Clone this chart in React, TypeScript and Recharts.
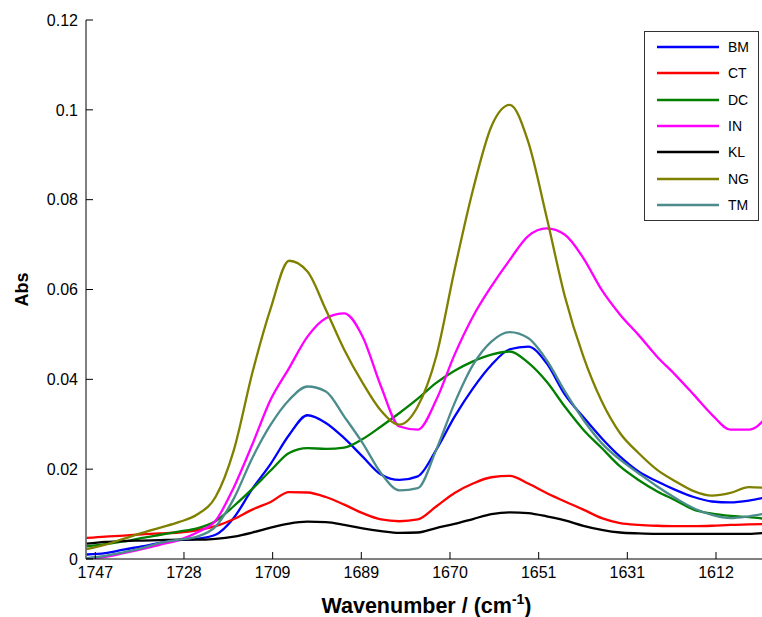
import React from "react";
import { LineChart, Line, XAxis, YAxis, Legend, Label } from "recharts";

// Spectra, one value every 4 cm-1 (high -> low wavenumber)
const WAVENUMBERS = [
    1749, 1745, 1741, 1737, 1733, 1729, 1725, 1721, 1717, 1713, 1709, 1705, 1701,
    1697, 1693, 1689, 1685, 1681, 1677, 1673, 1669, 1665, 1661, 1657, 1653, 1649,
    1645, 1641, 1637, 1633, 1629, 1625, 1621, 1617, 1613, 1609, 1605, 1601,
];

const BM = [
    0.001, 0.0013, 0.0021, 0.0028, 0.0036, 0.0042, 0.0045, 0.0054, 0.0092, 0.0156,
    0.0212, 0.0276, 0.032, 0.0303, 0.0269, 0.0228, 0.0188, 0.0176, 0.0184, 0.0243,
    0.0317, 0.038, 0.0432, 0.0467, 0.0473, 0.0436, 0.0366, 0.0316, 0.0269, 0.0228,
    0.0195, 0.0173, 0.0154, 0.0138, 0.0128, 0.0126, 0.013, 0.0138,
];
const CT = [
    0.0047, 0.005, 0.0052, 0.0055, 0.0057, 0.0059, 0.0064, 0.0073, 0.0089, 0.011,
    0.0127, 0.0149, 0.0148, 0.0138, 0.0121, 0.0102, 0.0088, 0.0084, 0.0088, 0.0117,
    0.0147, 0.0168, 0.0182, 0.0185, 0.0168, 0.0147, 0.0128, 0.011, 0.0091, 0.008,
    0.0076, 0.0074, 0.0073, 0.0073, 0.0074, 0.0076, 0.0077, 0.0078,
];
const DC = [
    0.0028, 0.0033, 0.0039, 0.0047, 0.0054, 0.0061, 0.0068, 0.0084, 0.0118, 0.0156,
    0.0197, 0.0236, 0.0247, 0.0245, 0.0248, 0.0267, 0.0295, 0.0325, 0.0357, 0.0392,
    0.0419, 0.044, 0.0455, 0.0462, 0.0437, 0.0395, 0.0339, 0.0288, 0.0247, 0.0206,
    0.0176, 0.0151, 0.0131, 0.011, 0.0101, 0.0096, 0.0093, 0.0089,
];
const IN = [
    0.0001, 0.0005, 0.0013, 0.0022, 0.0032, 0.0042, 0.0059, 0.0085, 0.016, 0.0255,
    0.0355, 0.0425, 0.0495, 0.0536, 0.0547, 0.0495, 0.0384, 0.0295, 0.0288, 0.0354,
    0.0455, 0.054, 0.0607, 0.0666, 0.0719, 0.0736, 0.0722, 0.067, 0.0599, 0.0544,
    0.0499, 0.0451, 0.041, 0.0366, 0.0321, 0.0288, 0.0288, 0.0317,
];
const KL = [
    0.0034, 0.0038, 0.004, 0.0041, 0.0042, 0.0043, 0.0043, 0.0045, 0.005, 0.0059,
    0.007, 0.0079, 0.0083, 0.0082, 0.0076, 0.0068, 0.0062, 0.0058, 0.0059, 0.0069,
    0.0078, 0.0089, 0.01, 0.0104, 0.0102, 0.0095, 0.0086, 0.0074, 0.0065, 0.0059,
    0.0057, 0.0056, 0.0056, 0.0056, 0.0056, 0.0056, 0.0056, 0.0059,
];
const NG = [
    0.0022, 0.0032, 0.0045, 0.0058, 0.007, 0.0082, 0.0099, 0.0138, 0.0243, 0.0414,
    0.0558, 0.0664, 0.064, 0.0555, 0.0466, 0.0392, 0.033, 0.0299, 0.034, 0.0451,
    0.0644, 0.0822, 0.0963, 0.1011, 0.0929, 0.0762, 0.0584, 0.0451, 0.0351, 0.028,
    0.0236, 0.0199, 0.0173, 0.0151, 0.0141, 0.0147, 0.016, 0.0158,
];
const TM = [
    0.0002, 0.0007, 0.0015, 0.0024, 0.0036, 0.0043, 0.005, 0.0072, 0.0135, 0.0225,
    0.0299, 0.0354, 0.0384, 0.0373, 0.0317, 0.0258, 0.0191, 0.0153, 0.0158, 0.0243,
    0.0347, 0.0432, 0.0484, 0.0505, 0.0492, 0.0443, 0.0373, 0.031, 0.0258, 0.0221,
    0.0191, 0.0162, 0.0136, 0.0113, 0.0098, 0.0091, 0.0095, 0.0102,
];

const SERIES_NAMES = ["BM", "CT", "DC", "IN", "KL", "NG", "TM"];
const SERIES_VALUES = [BM, CT, DC, IN, KL, NG, TM];

// tick positions on the wavenumber axis (labels are rounded)
const X_TICKS = [1747.14, 1727.86, 1708.57, 1689.29, 1670.0, 1650.71, 1631.43, 1612.14];
const Y_TICKS = [0, 0.02, 0.04, 0.06, 0.08, 0.1, 0.12];
const X_DOMAIN: [number, number] = [1601.05, 1749.17];
const Y_DOMAIN: [number, number] = [0, 0.12];

const COLORS: Record<string, string> = {
    BM: "#0000ff",
    CT: "#ff0000",
    DC: "#007f00",
    IN: "#ff00ff",
    KL: "#000000",
    NG: "#808000",
    TM: "#4c8c8c",
};

const FONT = "'Liberation Sans', Arial, Helvetica, sans-serif";
const TICK_LEN = 7;
const TICK_GAP = 8;

const rows = WAVENUMBERS.map((w, i) => {
    const row: Record<string, number> = { w };
    SERIES_NAMES.forEach((name, k) => {
        row[name] = SERIES_VALUES[k][i];
    });
    return row;
});

// MATLAB-style ticks: marks point into the plot box
const BottomTick = (props: any) => {
    const { x, y, payload } = props;
    const axisY = y - TICK_GAP;
    return (
        <g>
            <line x1={x} x2={x} y1={axisY} y2={axisY - TICK_LEN} stroke="#000" />
            <text x={x} y={y} dy="0.71em" textAnchor="middle" fontSize={16} fontFamily={FONT} fill="#000">
                {Math.round(payload.value)}
            </text>
        </g>
    );
};

const TopTick = (props: any) => {
    const { x, y } = props;
    return <line x1={x} x2={x} y1={y} y2={y + TICK_LEN} stroke="#000" />;
};

const LeftTick = (props: any) => {
    const { x, y, payload } = props;
    const axisX = x + TICK_GAP;
    return (
        <g>
            <line x1={axisX} x2={axisX + TICK_LEN} y1={y} y2={y} stroke="#000" />
            <text x={x} y={y} dy="0.355em" textAnchor="end" fontSize={16} fontFamily={FONT} fill="#000">
                {String(payload.value)}
            </text>
        </g>
    );
};

const RightTick = (props: any) => {
    const { x, y } = props;
    return <line x1={x} x2={x - TICK_LEN} y1={y} y2={y} stroke="#000" />;
};

const YTitle = (props: any) => {
    const vb = props.viewBox;
    const cx = vb.x + 22;
    const cy = vb.y + vb.height / 2;
    return (
        <text
            x={cx}
            y={cy}
            dy="0.355em"
            transform={`rotate(-90 ${cx} ${cy})`}
            textAnchor="middle"
            fontSize={18}
            fontWeight="bold"
            fontFamily={FONT}
            fill="#000"
        >
            Abs
        </text>
    );
};

const XTitle = (props: any) => {
    const vb = props.viewBox;
    const cx = vb.x + vb.width / 2;
    return (
        <text x={cx} y={vb.y + 54} textAnchor="middle" fontSize={21.5} fontWeight="bold" fontFamily={FONT} fill="#000">
            Wavenumber / (cm
            <tspan dy={-9} fontSize={14}>-1</tspan>
            <tspan dy={9}>)</tspan>
        </text>
    );
};

const LegendBox = (props: any) => {
    const payload = props.payload ?? [];
    return (
        <div
            style={{
                position: "relative",
                width: 113,
                height: 188,
                border: "1px solid #333",
                background: "#fff",
                fontFamily: FONT,
            }}
        >
            {payload.map((entry: any, i: number) => (
                <div
                    key={entry.value}
                    style={{
                        position: "absolute",
                        left: 0,
                        top: 6 + i * 26.3,
                        height: 18,
                        display: "flex",
                        alignItems: "center",
                    }}
                >
                    <svg width={83} height={18}>
                        <line x1={12} x2={74} y1={9} y2={9} stroke={entry.color} strokeWidth={2.5} />
                    </svg>
                    <span style={{ fontSize: 14, color: "#000", lineHeight: "18px" }}>{entry.value}</span>
                </div>
            ))}
        </div>
    );
};

export default function App() {
    return (
        <div
            style={{
                position: "absolute",
                left: 0,
                top: 0,
                width: 762,
                height: 617,
                overflow: "hidden",
                background: "#fff",
            }}
        >
            <LineChart width={800} height={617} data={rows} margin={{ top: 20, right: 33, bottom: 0, left: 0 }}>
                <XAxis
                    xAxisId="b"
                    dataKey="w"
                    type="number"
                    domain={X_DOMAIN}
                    allowDataOverflow
                    reversed
                    ticks={X_TICKS}
                    height={58}
                    tickSize={0}
                    tickMargin={TICK_GAP}
                    tickLine={false}
                    tick={<BottomTick />}
                    axisLine={{ stroke: "#000" }}
                >
                    <Label content={XTitle} />
                </XAxis>
                <XAxis
                    xAxisId="t"
                    orientation="top"
                    dataKey="w"
                    type="number"
                    domain={X_DOMAIN}
                    allowDataOverflow
                    reversed
                    ticks={X_TICKS}
                    height={0}
                    tickSize={0}
                    tickMargin={0}
                    tickLine={false}
                    tick={<TopTick />}
                    axisLine={{ stroke: "#000" }}
                />
                <YAxis
                    yAxisId="l"
                    type="number"
                    domain={Y_DOMAIN}
                    allowDataOverflow
                    ticks={Y_TICKS}
                    width={86}
                    tickSize={0}
                    tickMargin={TICK_GAP}
                    tickLine={false}
                    tick={<LeftTick />}
                    axisLine={{ stroke: "#000" }}
                >
                    <Label content={YTitle} />
                </YAxis>
                <YAxis
                    yAxisId="r"
                    orientation="right"
                    type="number"
                    domain={Y_DOMAIN}
                    allowDataOverflow
                    ticks={Y_TICKS}
                    width={0}
                    tickSize={0}
                    tickMargin={0}
                    tickLine={false}
                    tick={<RightTick />}
                    axisLine={{ stroke: "#000" }}
                />
                <Legend
                    layout="vertical"
                    align="center"
                    verticalAlign="middle"
                    content={<LegendBox />}
                    wrapperStyle={{ left: 644, top: 31, width: 115, height: 190 }}
                />
                {SERIES_NAMES.map((name) => (
                    <Line
                        key={name}
                        xAxisId="b"
                        yAxisId="l"
                        type="monotone"
                        dataKey={name}
                        name={name}
                        stroke={COLORS[name]}
                        strokeWidth={2.3}
                        dot={false}
                        activeDot={false}
                        isAnimationActive={false}
                    />
                ))}
            </LineChart>
        </div>
    );
}
